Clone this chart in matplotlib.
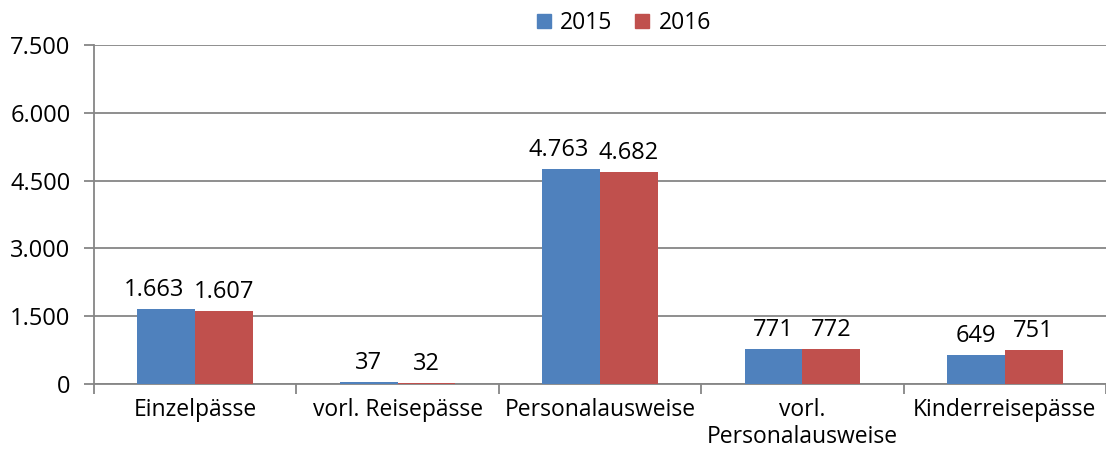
import matplotlib
matplotlib.use("Agg")
import matplotlib.pyplot as plt
import numpy as np
from matplotlib.patches import Patch
from matplotlib.ticker import FuncFormatter

categories = ["Einzelpässe", "vorl. Reisepässe", "Personalausweise", "vorl.\nPersonalausweise", "Kinderreisepässe"]
series_names = ["2015", "2016"]
values_2015 = [1663, 37, 4763, 771, 649]
values_2016 = [1607, 32, 4682, 772, 751]
colors = ["#4F81BD", "#C0504D"]
y_ticks = [0, 1500, 3000, 4500, 6000, 7500]

plt.rcParams['font.family'] = ['Open Sans', 'DejaVu Sans']

def de_fmt(v):
    return f"{int(round(v)):,}".replace(",", ".")

fig = plt.figure(figsize=(11.06, 4.62), dpi=100)
ax = fig.add_axes([94/1106, 1-384/462, 1-94/1106, (384-45)/462])

n = len(categories)
x = np.arange(n)
w = 1/3.5
grid_c = "#868686"

labels = []
for i, (vals, c) in enumerate(zip([values_2015, values_2016], colors)):
    offs = (i - 0.5) * w
    bars = ax.bar(x + offs, vals, width=w, color=c, zorder=3)
    row = []
    for b, v in zip(bars, vals):
        t = ax.annotate(de_fmt(v), (b.get_x() + b.get_width()/2, v), xytext=(0, 5),
                        textcoords="offset points", ha="center", va="bottom",
                        fontsize=17, color="black")
        row.append(t)
    labels.append(row)

ax.set_xlim(-0.5, n - 0.5)
ax.set_ylim(0, 7500)
ax.set_yticks(y_ticks)
ax.yaxis.set_major_formatter(FuncFormatter(lambda v, p: de_fmt(v)))
ax.yaxis.grid(True, color=grid_c, linewidth=1.3, zorder=0)
ax.set_axisbelow(True)

ax.set_xticks(np.arange(n + 1) - 0.5)
ax.set_xticklabels([])
ax.set_xticks(x, minor=True)
ax.set_xticklabels(categories, minor=True, fontsize=16.5, color="black")
ax.tick_params(axis="x", which="minor", length=0, pad=10)
ax.tick_params(axis="x", which="major", length=7, width=1.3, color=grid_c)
ax.tick_params(axis="y", length=7, width=1.3, color=grid_c, labelsize=17, labelcolor="black", pad=10)

for s in ["top", "right"]:
    ax.spines[s].set_visible(False)
for s in ["left", "bottom"]:
    ax.spines[s].set_color(grid_c)
    ax.spines[s].set_linewidth(1.3)

handles = [Patch(color=c, label=l) for c, l in zip(colors, series_names)]
fig.legend(handles=handles, loc="center", bbox_to_anchor=(624/1106, 1-23/462), ncol=2,
           frameon=False, fontsize=16.5, handlelength=0.6, handleheight=0.6,
           handletextpad=0.4, columnspacing=1.0)

# shift overlapping 2015 labels to the left (as in the original layout)
fig.canvas.draw()
renderer = fig.canvas.get_renderer()
gap_px = 10
for tl, tr in zip(labels[0], labels[1]):
    bl = tl.get_window_extent(renderer)
    br = tr.get_window_extent(renderer)
    overlap = bl.x1 + gap_px - br.x0
    if overlap > 0:
        dx_pt = overlap * 72 / fig.dpi
        tl.set_position((-dx_pt, 5))

fig.savefig("out.png", dpi=100)
